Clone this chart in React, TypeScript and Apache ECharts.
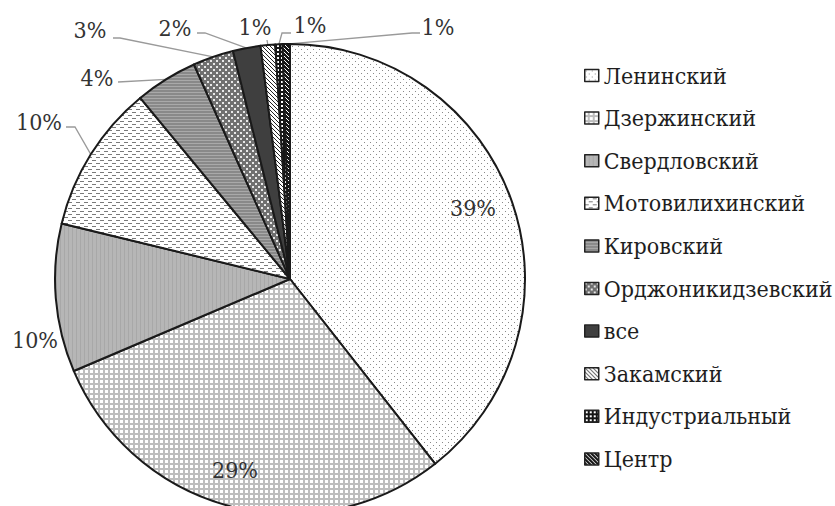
import React, { useEffect, useRef } from 'react';
import * as echarts from 'echarts';

// ---- data ----
const CATEGORIES = [
  'Ленинский',
  'Дзержинский',
  'Свердловский',
  'Мотовилихинский',
  'Кировский',
  'Орджоникидзевский',
  'все',
  'Закамский',
  'Индустриальный',
  'Центр',
];
const SHARES = [39.4, 29.2, 10.2, 10.2, 4.3, 2.8, 1.9, 1.0, 0.5, 0.5];

// ---- layout (pixels) ----
const CX = 290;
const CY = 279;
const R = 235;
const LABEL_POS: number[][] = [
  [473, 208],
  [235, 470],
  [35, 340],
  [39, 122],
  [97, 78],
  [90, 30],
  [175, 28],
  [255, 27],
  [310, 25],
  [438, 27],
];
const LEADER_BENDS: (number[][] | null)[] = [
  null,
  null,
  null,
  [[75, 127], [66, 127]],
  [[118, 82]],
  [[120, 38], [113, 38]],
  [[205, 33], [197, 33]],
  [[267, 40]],
  [[282, 33], [291, 33]],
  [[412, 33], [420, 33]],
];

const FONT = 'DejaVu Serif Condensed, DejaVu Serif';

function tile(w: number, h: number, draw: (c: CanvasRenderingContext2D) => void) {
  const cv = document.createElement('canvas');
  cv.width = w;
  cv.height = h;
  const ctx = cv.getContext('2d')!;
  draw(ctx);
  return { image: cv.toDataURL(), repeat: 'repeat', imageWidth: w, imageHeight: h } as any;
}

function buildPatterns() {
  return [
    tile(6, 6, (c) => {
      c.fillStyle = '#fff'; c.fillRect(0, 0, 6, 6);
      c.fillStyle = '#8a8a8a'; c.fillRect(1, 1, 1, 1); c.fillRect(4, 4, 1, 1);
    }),
    tile(5, 5, (c) => {
      c.fillStyle = '#fff'; c.fillRect(0, 0, 5, 5);
      c.fillStyle = '#bdbdbd'; c.fillRect(0, 3, 5, 2); c.fillRect(3, 0, 2, 5);
    }),
    tile(4, 1, (c) => {
      c.fillStyle = '#b6b6b6'; c.fillRect(0, 0, 4, 1);
      c.fillStyle = '#a8a8a8'; c.fillRect(0, 0, 1, 1);
    }),
    tile(8, 6, (c) => {
      c.fillStyle = '#fff'; c.fillRect(0, 0, 8, 6);
      c.fillStyle = '#7a7a7a'; c.fillRect(0, 1, 4, 1); c.fillRect(4, 4, 4, 1);
    }),
    tile(1, 3, (c) => {
      c.fillStyle = '#898989'; c.fillRect(0, 0, 1, 3);
      c.fillStyle = '#a9a9a9'; c.fillRect(0, 2, 1, 1);
    }),
    tile(6, 6, (c) => {
      c.fillStyle = '#707070'; c.fillRect(0, 0, 6, 6);
      c.fillStyle = '#e8e8e8'; c.fillRect(0, 0, 2, 2); c.fillRect(3, 3, 2, 2);
    }),
    '#3f3f3f',
    tile(4, 4, (c) => {
      c.fillStyle = '#fff'; c.fillRect(0, 0, 4, 4);
      c.fillStyle = '#222';
      for (let i = 0; i < 4; i++) c.fillRect(i, i, 1, 1);
    }),
    tile(4, 4, (c) => {
      c.fillStyle = '#151515'; c.fillRect(0, 0, 4, 4);
      c.fillStyle = '#fff'; c.fillRect(1, 1, 2, 2);
    }),
    tile(4, 4, (c) => {
      c.fillStyle = '#151515'; c.fillRect(0, 0, 4, 4);
      c.fillStyle = '#fff';
      for (let i = 0; i < 4; i++) c.fillRect(i, i, 1, 1);
    }),
  ];
}

function anchorPoint(i: number): number[] {
  const total = SHARES.reduce((a, b) => a + b, 0);
  let cum = 0;
  for (let k = 0; k < i; k++) cum += SHARES[k];
  const theta = ((cum + SHARES[i] / 2) / total) * Math.PI * 2;
  return [CX + R * Math.sin(theta), CY - R * Math.cos(theta)];
}

export default function App() {
  const ref = useRef<HTMLDivElement>(null);
  useEffect(() => {
    document.body.style.margin = '0';
    const chart = echarts.init(ref.current!, null, { renderer: 'svg' });
    const patterns = buildPatterns();
    const data = CATEGORIES.map((name, i) => ({
      name,
      value: SHARES[i],
      itemStyle: { color: patterns[i] },
      labelLine: { show: LEADER_BENDS[i] != null },
    }));
    chart.setOption({
      animation: false,
      backgroundColor: '#fff',
      textStyle: { fontFamily: FONT },
      legend: {
        orient: 'vertical',
        left: 579,
        top: 58,
        itemWidth: 14,
        itemHeight: 12,
        itemGap: 17.6,
        icon: 'rect',
        selectedMode: false,
        itemStyle: { borderColor: '#222', borderWidth: 1.5 },
        textStyle: { fontSize: 23, lineHeight: 25, fontFamily: FONT, color: '#1e1e1e' },
        data: CATEGORIES,
      },
      series: [
        {
          type: 'pie',
          center: [CX, CY],
          radius: R,
          startAngle: 90,
          clockwise: true,
          avoidLabelOverlap: false,
          emphasis: { disabled: true },
          itemStyle: { borderColor: '#1a1a1a', borderWidth: 2 },
          label: {
            show: true,
            position: 'outside',
            fontSize: 23,
            fontFamily: FONT,
            color: '#333',
            formatter: (p: any) => Math.round(p.percent) + '%',
          },
          labelLine: { lineStyle: { color: '#9a9a9a', width: 1.3 } },
          labelLayout: (params: any) => {
            const i = params.dataIndex;
            const out: any = {
              x: LABEL_POS[i][0],
              y: LABEL_POS[i][1],
              align: 'center',
              verticalAlign: 'middle',
            };
            const bends = LEADER_BENDS[i];
            if (bends) out.labelLinePoints = [anchorPoint(i), ...bends];
            return out;
          },
          data,
        },
      ],
    });
    return () => chart.dispose();
  }, []);
  return (
    <div
      ref={ref}
      style={{ position: 'absolute', left: 0, top: 0, width: 835, height: 506 }}
    />
  );
}
